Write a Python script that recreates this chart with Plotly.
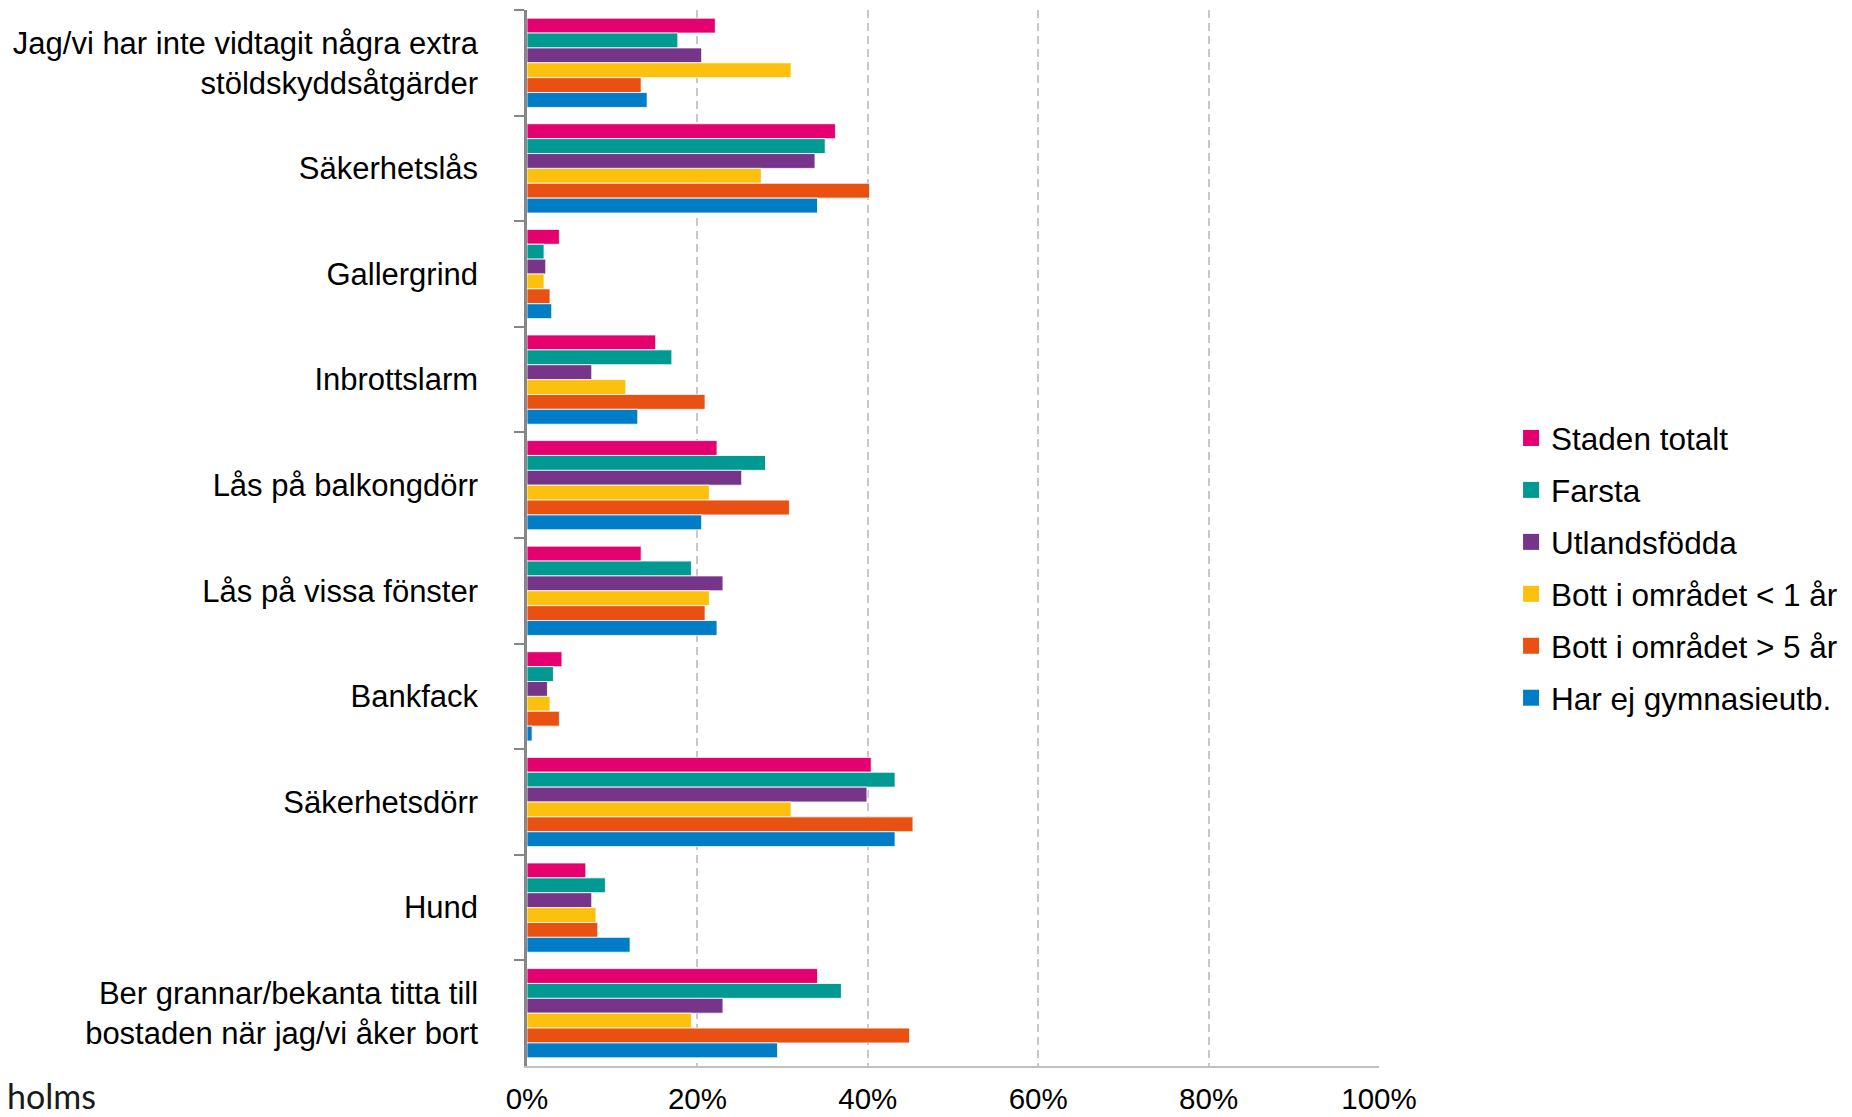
import plotly.graph_objects as go

categories = [
    "Jag/vi har inte vidtagit några extra<br>stöldskyddsåtgärder",
    "Säkerhetslås",
    "Gallergrind",
    "Inbrottslarm",
    "Lås på balkongdörr",
    "Lås på vissa fönster",
    "Bankfack",
    "Säkerhetsdörr",
    "Hund",
    "Ber grannar/bekanta titta till<br>bostaden när jag/vi åker bort",
]

series_names = [
    "Staden totalt",
    "Farsta",
    "Utlandsfödda",
    "Bott i området < 1 år",
    "Bott i området > 5 år",
    "Har ej gymnasieutb.",
]

staden_totalt = [22.1, 36.2, 3.8, 15.1, 22.3, 13.4, 4.1, 40.4, 6.9, 34.1]
farsta = [17.7, 35.0, 2.0, 17.0, 28.0, 19.3, 3.1, 43.2, 9.2, 36.9]
utlandsfodda = [20.5, 33.8, 2.2, 7.6, 25.2, 23.0, 2.4, 39.9, 7.6, 23.0]
bott_under_1 = [31.0, 27.5, 2.0, 11.6, 21.4, 21.4, 2.7, 31.0, 8.1, 19.3]
bott_over_5 = [13.4, 40.2, 2.7, 20.9, 30.8, 20.9, 3.8, 45.3, 8.3, 44.9]
har_ej_gymn = [14.1, 34.1, 2.9, 13.0, 20.5, 22.3, 0.6, 43.2, 12.1, 29.4]

series_values = [staden_totalt, farsta, utlandsfodda, bott_under_1, bott_over_5, har_ej_gymn]
colors = ["#E4006F", "#009A93", "#773589", "#FCC00E", "#E85112", "#007DC6"]

x_ticks = [0, 20, 40, 60, 80, 100]
x_tick_labels = ["0%", "20%", "40%", "60%", "80%", "100%"]

FONT = "Liberation Sans, Arial, sans-serif"

fig = go.Figure()
for i, (name, vals, col) in enumerate(zip(series_names, series_values, colors)):
    fig.add_trace(go.Bar(
        y=categories, x=vals, name=name, orientation="h",
        marker=dict(color=col, line=dict(color="rgba(255,255,255,0.8)", width=1)),
        showlegend=False,
    ))
# legend entries with larger square swatches
for i, (name, col) in enumerate(zip(series_names, colors)):
    fig.add_trace(go.Scatter(
        x=[None], y=[None], mode="markers", name=name,
        marker=dict(symbol="square", size=16, color=col),
        legendgroup=f"g{i}", showlegend=True,
    ))

# the page body adds an 8px offset; figure is sized to compensate
fig.update_layout(
    width=1844, height=1109,
    paper_bgcolor="white", plot_bgcolor="white",
    margin=dict(l=519, r=473, t=2, b=51),
    barmode="group", bargap=0.155, bargroupgap=0,
    font=dict(family=FONT, size=31, color="#000000"),
    legend=dict(
        x=1.155, xanchor="left", y=0.4716, yanchor="middle",
        font=dict(size=31.5, family=FONT), tracegroupgap=8,
        itemwidth=30, bgcolor="rgba(0,0,0,0)",
    ),
    annotations=[dict(
        text="holms", xref="paper", yref="paper",
        x=-519 / 852 - 0.004, y=-0.0284, xanchor="left", yanchor="middle",
        showarrow=False, font=dict(family="Lato", size=34, color="#1a1a1a"),
    )],
)

fig.update_xaxes(
    range=[0, 100], tickvals=x_ticks, ticktext=x_tick_labels,
    showgrid=True, gridcolor="#c8c8c8", gridwidth=1.5, griddash="8px,5px",
    showline=True, linecolor="#c0c0c0", linewidth=2,
    zeroline=False, ticks="", tickfont=dict(size=29.5),
    ticklabelstandoff=6,
)
fig.update_yaxes(
    autorange="reversed", showgrid=False,
    showline=True, linecolor="#878787", linewidth=2.5,
    ticks="outside", ticklen=10, tickwidth=2, tickcolor="#878787",
    tickson="boundaries", ticklabelstandoff=40,
    tickfont=dict(size=31),
)

fig.write_html("out.html")
